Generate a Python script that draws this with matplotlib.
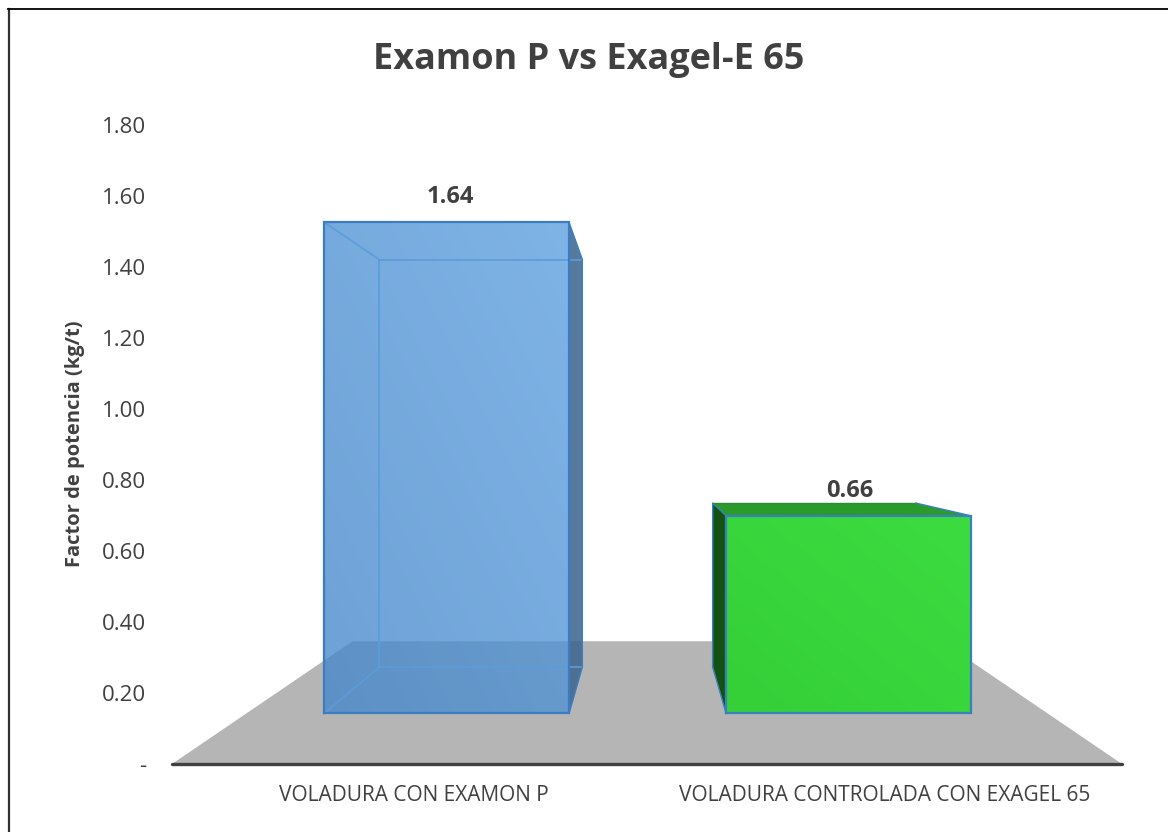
import numpy as np
import matplotlib
matplotlib.use("Agg")
import matplotlib.pyplot as plt
from matplotlib.lines import Line2D
from matplotlib.patches import Polygon
from matplotlib.colors import LinearSegmentedColormap

categories = ["VOLADURA CON EXAMON P", "VOLADURA CONTROLADA CON EXAGEL 65"]
values = [1.64, 0.66]
value_labels = ["1.64", "0.66"]
y_ticks = [0, 0.2, 0.4, 0.6, 0.8, 1.0, 1.2, 1.4, 1.6, 1.8]
y_tick_labels = ["-", "0.20", "0.40", "0.60", "0.80", "1.00", "1.20", "1.40", "1.60", "1.80"]
title = "Examon P vs Exagel-E 65"
y_title = "Factor de potencia (kg/t)"

W, H = 1168, 832
FONT = "Open Sans"
TEXT = "#404040"
plt.rcParams["font.family"] = FONT

fig = plt.figure(figsize=(W / 100, H / 100), dpi=100, facecolor="white")
ax = fig.add_axes([172 / W, 1 - 764 / H, 950 / W, 639 / H])
ax.set_xlim(0, 2)
ax.set_ylim(0, 1.8)
for s in ax.spines.values():
    s.set_visible(False)

# simple perspective of the 3-D chart box
HORIZON = 0.91
S_FRONT, S_BACK, S_FLOOR = 0.843, 0.70, 0.62
BAR_W = 0.611
BAR_SHIFT = [0.0, 0.003]


def proj(x, y, s):
    return (1 + (x - 1) * s, HORIZON * (1 - s) + y * s)


def gradient_face(pts, c0, c1, alpha, z):
    poly = Polygon(pts, closed=True, transform=ax.transData, fc="none", ec="none", zorder=z)
    ax.add_patch(poly)
    cmap = LinearSegmentedColormap.from_list("g", [c0, c1])
    xs = [p[0] for p in pts]
    ys = [p[1] for p in pts]
    gx, gy = np.meshgrid(np.linspace(0, 1, 64), np.linspace(0, 1, 64))
    im = ax.imshow((gx + gy) / 2, extent=[min(xs), max(xs), min(ys), max(ys)], origin="lower",
                   cmap=cmap, alpha=alpha, aspect="auto", zorder=z, interpolation="bilinear")
    im.set_clip_path(poly)
    ax.set_xlim(0, 2)
    ax.set_ylim(0, 1.8)


# floor
ax.add_patch(Polygon([proj(0, 0, 1), proj(2, 0, 1), proj(2, 0, S_FLOOR), proj(0, 0, S_FLOOR)],
                     closed=True, fc="#b5b5b5", ec="none", zorder=1))
ax.plot([0, 2], [0, 0], color="#404040", lw=2.4, solid_capstyle="round", zorder=2, clip_on=False)

EDGE = "#3a80c2"
# blue bar
i = 0
x0, x1 = i + 0.5 + BAR_SHIFT[i] - BAR_W / 2, i + 0.5 + BAR_SHIFT[i] + BAR_W / 2
v = values[i]
ft = lambda x: proj(x, v, S_FRONT)
fb = lambda x: proj(x, 0, S_FRONT)
bt = lambda x: proj(x, v, S_BACK)
bb = lambda x: proj(x, 0, S_BACK)
ax.add_patch(Polygon([ft(x1), bt(x1), bb(x1), fb(x1)], closed=True, fc="#3f6690", alpha=0.88,
                     ec="none", zorder=3))
gradient_face([fb(x0), fb(x1), ft(x1), ft(x0)], "#4487ca", "#5a9ee0", 0.78, 4)
for a, b in [(ft(x0), bt(x0)), (fb(x0), bb(x0)), (bt(x0), bb(x0)), (bt(x0), bt(x1)), (bb(x0), bb(x1))]:
    ax.plot(*zip(a, b), color="#5c9cd8", lw=1.4, alpha=0.85, zorder=5)
ax.plot(*zip(fb(x0), fb(x1), ft(x1), ft(x0), fb(x0)), color="#3c7cc0", lw=1.6, zorder=5, solid_joinstyle="miter")
ax.plot(*zip(ft(x1), bt(x1), bb(x1), fb(x1)), color=EDGE, lw=1.0, zorder=5)

# green bar
i = 1
x0, x1 = i + 0.5 + BAR_SHIFT[i] - BAR_W / 2, i + 0.5 + BAR_SHIFT[i] + BAR_W / 2
v = values[i]
ax.add_patch(Polygon([bt(x0), ft(x0), fb(x0), bb(x0)], closed=True, fc="#145214", ec="none", zorder=3))
ax.add_patch(Polygon([bt(x0), bt(x1), ft(x1), ft(x0)], closed=True, fc="#2a9a2a", ec="none", zorder=3))
gradient_face([fb(x0), fb(x1), ft(x1), ft(x0)], "#35cf38", "#3cdc40", 1.0, 4)
ax.plot(*zip(fb(x0), fb(x1), ft(x1), ft(x0), fb(x0)), color="#3a80c0", lw=1.6, zorder=5, solid_joinstyle="miter")
ax.plot(*zip(bb(x0), bt(x0), ft(x0)), color=EDGE, lw=1.0, zorder=5)
ax.plot(*zip(bb(x0), fb(x0)), color=EDGE, lw=1.0, zorder=5)
ax.plot(*zip(bt(x0), bt(x1)), color="#2f8a3a", lw=1.0, zorder=5)
ax.plot(*zip(bt(x1), ft(x1)), color=EDGE, lw=1.0, zorder=5)

# value labels
for i, (v, lab) in enumerate(zip(values, value_labels)):
    x, y = proj(i + 0.5, v, S_FRONT)
    ax.annotate(lab, (x, y), xytext=(3, 25), textcoords="offset pixels",
                ha="center", va="center", fontsize=17, fontweight="bold", color=TEXT, zorder=6)

ax.set_yticks(y_ticks)
ax.set_yticklabels(y_tick_labels, fontsize=16, color=TEXT)
ax.tick_params(axis="y", length=0, pad=18.7)
ax.set_xticks([0.51, 1.5])
ax.set_xticklabels(categories, fontsize=15, color=TEXT)
ax.tick_params(axis="x", length=0, pad=15)
ax.set_ylabel(y_title, fontsize=14.5, fontweight="bold", color=TEXT, va="center")
ax.yaxis.set_label_coords((75 - 172) / 950, (764 - 444) / 639)

fig.text(589 / W, 1 - 60 / H, title, ha="center", va="center", fontsize=25.9, fontweight="bold", color=TEXT)
fig.add_artist(Line2D([8.5 / W, 8.5 / W], [0, 1 - 8.5 / H], transform=fig.transFigure, color="#303030", lw=1.6))
fig.add_artist(Line2D([8 / W, 1], [1 - 8.5 / H, 1 - 8.5 / H], transform=fig.transFigure, color="black", lw=1.3))
fig.savefig("out.png", dpi=100)
